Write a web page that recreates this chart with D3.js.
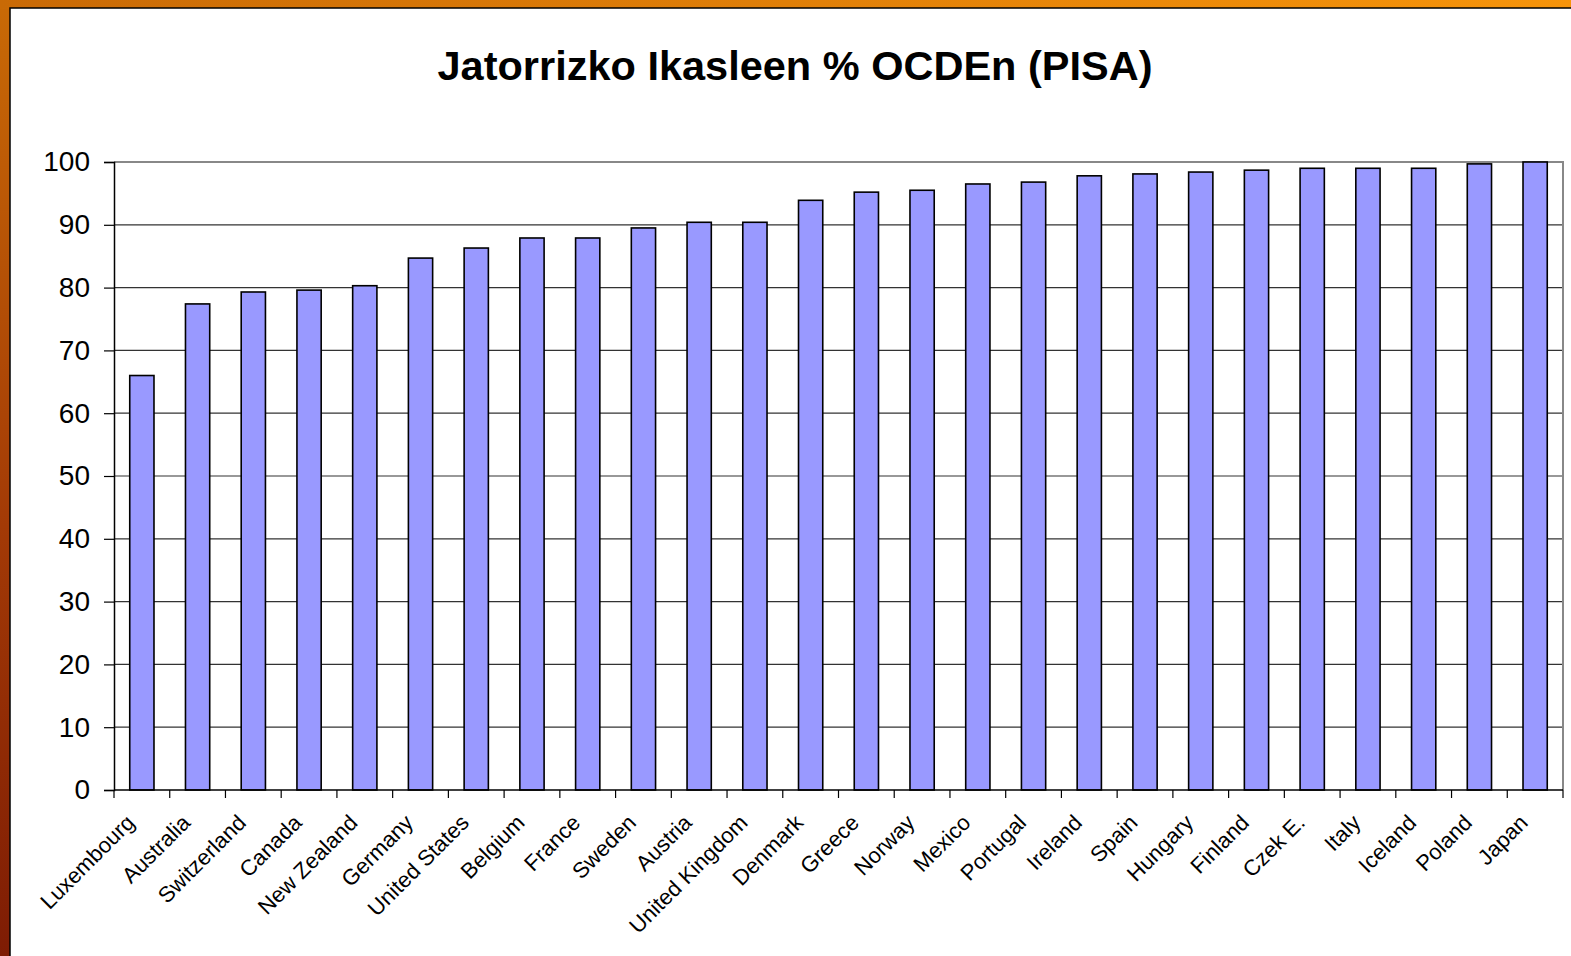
<!doctype html>
<html>
<head>
<meta charset="utf-8"/>
<title>Jatorrizko Ikasleen % OCDEn (PISA)</title>
<script src="https://d3js.org/d3.v7.min.js"></script>
<style>
 body { margin: 0; background: #fff; }
 svg text { font-family: "Liberation Sans", Arial, sans-serif; }
</style>
</head>
<body>
<script>
// datuak
var herriak = ["Luxembourg", "Australia", "Switzerland", "Canada", "New Zealand", "Germany",
  "United States", "Belgium", "France", "Sweden", "Austria", "United Kingdom", "Denmark",
  "Greece", "Norway", "Mexico", "Portugal", "Ireland", "Spain", "Hungary", "Finland",
  "Czek E.", "Italy", "Iceland", "Poland", "Japan"];
var balioak = [66, 77.4, 79.3, 79.6, 80.3, 84.7, 86.3, 87.9, 87.9, 89.5, 90.4, 90.4, 93.9,
  95.2, 95.5, 96.5, 96.8, 97.8, 98.1, 98.4, 98.7, 99, 99, 99, 99.7, 100];
var yTicks = [0, 10, 20, 30, 40, 50, 60, 70, 80, 90, 100];
var izenburua = "Jatorrizko Ikasleen % OCDEn (PISA)";

var W = 1571, H = 956;
var svg = d3.select("body").append("svg").attr("width", W).attr("height", H);

// atzeko markoa (laranja)
var defs = svg.append("defs");
var grad = defs.append("linearGradient").attr("id", "ezker")
  .attr("x1", 0).attr("y1", 0).attr("x2", 0).attr("y2", 1);
grad.append("stop").attr("offset", "0%").attr("stop-color", "#c96a06");
grad.append("stop").attr("offset", "55%").attr("stop-color", "#a33a06");
grad.append("stop").attr("offset", "100%").attr("stop-color", "#7e1c04");
var gradGoi = defs.append("linearGradient").attr("id", "goi")
  .attr("x1", 0).attr("y1", 0).attr("x2", 1).attr("y2", 0);
gradGoi.append("stop").attr("offset", "0%").attr("stop-color", "#c96a06");
gradGoi.append("stop").attr("offset", "100%").attr("stop-color", "#f7940a");

svg.append("rect").attr("width", W).attr("height", H).attr("fill", "url(#ezker)");
svg.append("rect").attr("width", W).attr("height", 9).attr("fill", "url(#goi)");
svg.append("rect").attr("x", 10).attr("y", 8).attr("width", W).attr("height", H)
  .attr("fill", "#fff").attr("stroke", "#000").attr("stroke-width", 1.5);

// izenburua
svg.append("text").attr("x", 795).attr("y", 80)
  .attr("text-anchor", "middle").attr("font-size", 41.5).attr("font-weight", "bold")
  .text(izenburua);

var m = {left: 114, right: 1563, top: 162, bottom: 790};
var x = d3.scaleBand().domain(herriak).range([m.left, m.right]).paddingInner(0.565).paddingOuter(0.2825);
var xTick = d3.scaleBand().domain(herriak).range([m.left, m.right]);
var y = d3.scaleLinear().domain([0, 100]).range([m.bottom, m.top]);

// sareta
svg.append("g").selectAll("line").data(yTicks.filter(function(d){ return d > 0 && d < 100; }))
  .enter().append("line")
  .attr("x1", m.left).attr("x2", m.right)
  .attr("y1", function(d){ return y(d); }).attr("y2", function(d){ return y(d); })
  .attr("stroke", "#333").attr("stroke-width", 1.2);
// plot ertza
svg.append("path")
  .attr("d", "M" + m.left + "," + m.top + "H" + m.right + "V" + m.bottom)
  .attr("fill", "none").attr("stroke", "#888").attr("stroke-width", 2);

// barrak
svg.append("g").selectAll("rect").data(herriak).enter().append("rect")
  .attr("x", function(d){ return x(d); })
  .attr("width", x.bandwidth())
  .attr("y", function(d, i){ return y(balioak[i]); })
  .attr("height", function(d, i){ return y(0) - y(balioak[i]); })
  .attr("fill", "#9999ff").attr("stroke", "#000").attr("stroke-width", 1.6);

// Y ardatza
var yAx = svg.append("g").attr("transform", "translate(" + m.left + ",0)")
  .call(d3.axisLeft(y).tickValues(yTicks).tickSize(10).tickPadding(14));
yAx.select(".domain").attr("stroke", "#000").attr("stroke-width", 1.5);
yAx.selectAll(".tick line").attr("stroke", "#000").attr("stroke-width", 1.2);
yAx.selectAll("text").attr("font-size", 28).attr("fill", "#000")
  .attr("font-family", "'Liberation Sans', Arial, sans-serif");

// X ardatza
svg.append("line").attr("x1", m.left).attr("x2", m.right)
  .attr("y1", m.bottom).attr("y2", m.bottom).attr("stroke", "#000").attr("stroke-width", 1.5);
var tickPos = herriak.map(function(d){ return xTick(d); }).concat([m.right]);
svg.append("g").selectAll("line").data(tickPos).enter().append("line")
  .attr("x1", function(d){ return d; }).attr("x2", function(d){ return d; })
  .attr("y1", m.bottom).attr("y2", m.bottom + 8).attr("stroke", "#000").attr("stroke-width", 1.2);

svg.append("g").selectAll("text").data(herriak).enter().append("text")
  .attr("transform", function(d){
    var cx = xTick(d) + xTick.bandwidth() / 2 - 6;
    return "translate(" + cx + "," + (m.bottom + 34) + ") rotate(-45)";
  })
  .attr("text-anchor", "end").attr("font-size", 22).attr("fill", "#000")
  .text(function(d){ return d; });
</script>
</body>
</html>
